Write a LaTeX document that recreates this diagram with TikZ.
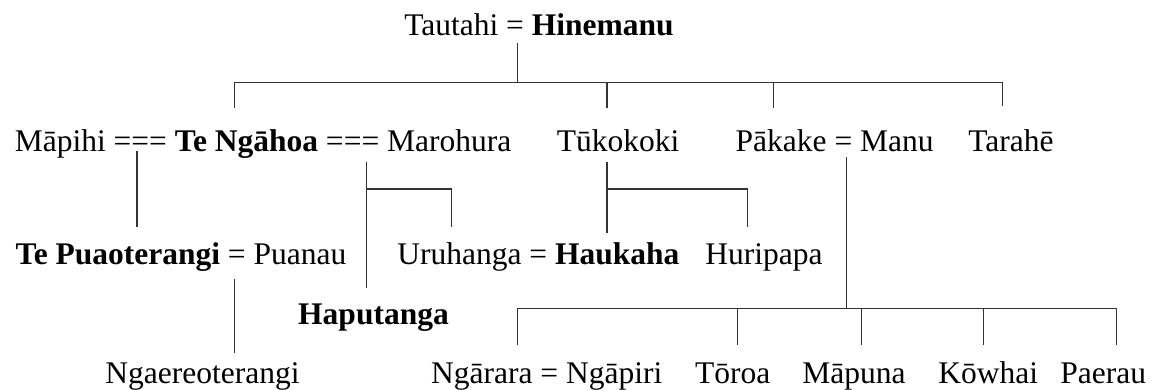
\documentclass[tikz,border=0pt]{standalone}
\usepackage{fontspec}
\setmainfont{Liberation Serif}
\begin{document}
\begin{tikzpicture}[x=1pt,y=-1pt,
  lbl/.style={inner sep=0pt, anchor=base, font=\fontsize{31.5}{36}\selectfont},
  ln/.style={line width=1.4pt, draw=black!80}]
\useasboundingbox (0,0) rectangle (1154,390);
% names
\node[lbl] (hinemanu) at (538.9,35.5) {Tautahi = \textbf{Hinemanu}};
\node[lbl] (ngahoa) at (263.1,151.5) {Māpihi === \textbf{Te Ngāhoa} === Marohura};
\node[lbl] (tukokoki) at (618,151.5) {Tūkokoki};
\node[lbl] (pakake) at (834.7,151.5) {Pākake = Manu};
\node[lbl] (tarahe) at (1010.9,151.5) {Tarahē};
\node[lbl] (puao) at (181,265) {\textbf{Te Puaoterangi} = Puanau};
\node[lbl] (uruhanga) at (538.3,265) {Uruhanga = \textbf{Haukaha}};
\node[lbl] (huripapa) at (763.9,265) {Huripapa};
\node[lbl] (haputanga) at (373.5,324.5) {\textbf{Haputanga}};
\node[lbl] (ngaere) at (202.5,383) {Ngaereoterangi};
\node[lbl] (ngarara) at (546.7,383) {Ngārara = Ngāpiri};
\node[lbl] (toroa) at (732.7,383) {Tōroa};
\node[lbl] (mapuna) at (854,383) {Māpuna};
\node[lbl] (kowhai) at (988.3,383) {Kōwhai};
\node[lbl] (paerau) at (1103.3,383) {Paerau};
% junction coordinates
\coordinate (hA) at (517.4,43.5);
\coordinate (hB) at (517.4,82.7);
\coordinate (barL) at (234.2,82.7);
\coordinate (barR) at (1002.6,82.7);
\coordinate (dNgahoa) at (234.2,107.7);
\coordinate (bTuk) at (607,82.7);
\coordinate (dTuk) at (607,107.7);
\coordinate (bPak) at (773.4,82.7);
\coordinate (dPak) at (773.4,107.7);
\coordinate (dTar) at (1002.6,106);
% Māpihi line
\coordinate (mA) at (137,150.7);
\coordinate (mB) at (137,226.7);
% Marohura line
\coordinate (rA) at (366.3,162.5);
\coordinate (rB) at (366.3,288.3);
\coordinate (rC) at (366.3,189.2);
\coordinate (rD) at (451.3,189.2);
\coordinate (rE) at (451.3,227);
% Tūkokoki line
\coordinate (tA) at (606.8,162.5);
\coordinate (tB) at (606.8,232.7);
\coordinate (tC) at (606.8,189.2);
\coordinate (tD) at (747.3,189.2);
\coordinate (tE) at (747.3,227.3);
% Puanau line
\coordinate (pA) at (234.6,279);
\coordinate (pB) at (234.6,353.3);
% Manu line and lower bar
\coordinate (nA) at (846.5,157.3);
\coordinate (nB) at (846.5,308.3);
\coordinate (lbL) at (517.4,308.3);
\coordinate (lbR) at (1116.7,308.3);
\coordinate (d1) at (517.4,345);
\coordinate (b2) at (737.3,308.3);
\coordinate (d2) at (737.3,345);
\coordinate (b3) at (861.7,308.3);
\coordinate (d3) at (861.7,345);
\coordinate (b4) at (983.3,308.3);
\coordinate (d4) at (983.3,345);
\coordinate (d5) at (1116.7,345);
% connectors
\draw[ln] (hA) -- (hB);
\draw[ln] (dNgahoa) -- (barL) -- (barR) -- (dTar);
\draw[ln] (bTuk) -- (dTuk);
\draw[ln] (bPak) -- (dPak);
\draw[ln] (mA) -- (mB);
\draw[ln] (rA) -- (rB);
\draw[ln] (rC) -- (rD) -- (rE);
\draw[ln] (tA) -- (tB);
\draw[ln] (tC) -- (tD) -- (tE);
\draw[ln] (pA) -- (pB);
\draw[ln] (nA) -- (nB);
\draw[ln] (d1) -- (lbL) -- (lbR) -- (d5);
\draw[ln] (b2) -- (d2);
\draw[ln] (b3) -- (d3);
\draw[ln] (b4) -- (d4);
\end{tikzpicture}
\end{document}
